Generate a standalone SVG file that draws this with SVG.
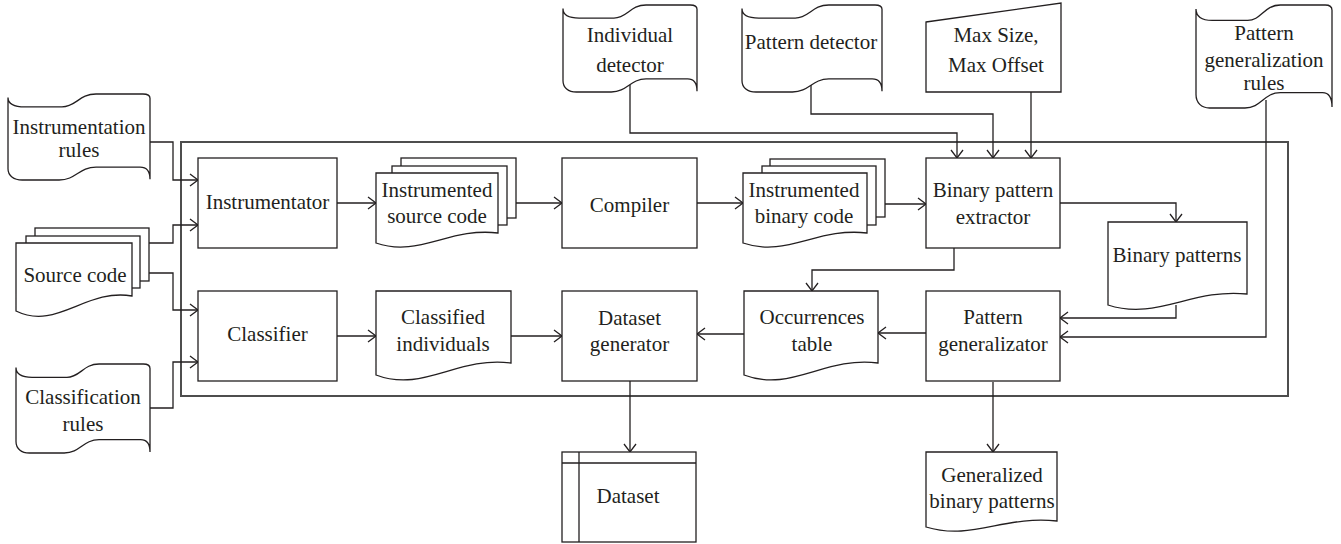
<svg xmlns="http://www.w3.org/2000/svg" width="1341" height="544" viewBox="0 0 1341 544">
<style>
.s{fill:#fff;stroke:#231f20;stroke-width:1.3}
.c{fill:none;stroke:#231f20;stroke-width:1.3;marker-end:url(#a)}
.n{fill:none;stroke:#231f20;stroke-width:1.3}
.t text{font-size:21px;fill:#231f20;text-anchor:middle}
</style>
<defs>
<marker id="a" viewBox="-10 -7 12 14" refX="0" refY="0" markerWidth="12" markerHeight="14" markerUnits="userSpaceOnUse" orient="auto">
<path d="M-8,-6 L0,0 L-8,6" fill="none" stroke="#231f20" stroke-width="1.3"/>
</marker>
<symbol id="tape" viewBox="0 0 100 100" preserveAspectRatio="none" overflow="visible">
<path d="M0,4 C0,11 4,15 12,15 L38,15 C48,15 50,0 62,0 L95,0 C98.5,0 100,2 100,5 L100,99 C100,91 98,85 93,85 L62,85 C50,85 48,100 36,100 L10,100 C4,100 0,95 0,87 Z" fill="#fff" stroke="#231f20" stroke-width="1.3" vector-effect="non-scaling-stroke"/>
</symbol>
</defs>
<rect x="181" y="142" width="1107" height="254" fill="none" stroke="#4d4d4d" stroke-width="2"/>
<g id="connectors">
<path class="c" d="M150,142 H173 V180 H198"/>
<path class="c" d="M149,243 H173 V225 H198"/>
<path class="c" d="M149,273 H173 V310 H198"/>
<path class="c" d="M150,408 H173 V362 H198"/>
<path class="c" d="M337,203 H376"/>
<path class="c" d="M516,203 H562"/>
<path class="c" d="M697,203 H743"/>
<path class="c" d="M885,204 H926"/>
<path class="c" d="M630,85 V133 H957 V158"/>
<path class="c" d="M811,85 V114 H993 V158"/>
<path class="c" d="M1031,92 V158"/>
<path class="c" d="M1060,203 H1176 V222"/>
<path class="c" d="M1176,305 V318 H1060"/>
<path class="c" d="M1266,100 V337 H1060"/>
<path class="c" d="M954,248 V270 H812 V291"/>
<path class="c" d="M926,333 H878"/>
<path class="c" d="M744,334 H697"/>
<path class="c" d="M337,336 H376"/>
<path class="c" d="M511,336 H562"/>
<path class="c" d="M630,381 V452"/>
<path class="c" d="M993,382 V452"/>
</g>
<g class="t" font-family="'Liberation Serif', 'DejaVu Serif', serif">
<g id="instrumentation-rules">
<use href="#tape" x="8" y="94" width="142" height="86"/>
<text x="79" y="134">Instrumentation</text>
<text x="79" y="157">rules</text>
</g>
<g id="source-code">
<rect class="s" x="35" y="228" width="114" height="53"/>
<rect class="s" x="26" y="236" width="114" height="52"/>
<path class="s" d="M16,243 H132 V296 C85.6,288 56.6,331 16,311 Z"/>
<text x="75" y="282">Source code</text>
</g>
<g id="classification-rules">
<use href="#tape" x="16" y="364" width="134" height="89"/>
<text x="83" y="404">Classification</text>
<text x="83" y="431">rules</text>
</g>
<g id="instrumentator">
<rect class="s" x="198" y="158" width="139" height="90"/>
<text x="267.5" y="209">Instrumentator</text>
</g>
<g id="classifier">
<rect class="s" x="198" y="291" width="139" height="90"/>
<text x="267.5" y="341">Classifier</text>
</g>
<g id="instrumented-source-code">
<rect class="s" x="401" y="158" width="115" height="60"/>
<rect class="s" x="392" y="166" width="115" height="59"/>
<path class="s" d="M376,173 H498 V233 C449.2,227 418.7,258 376,243 Z"/>
<text x="437" y="197">Instrumented</text>
<text x="437" y="223">source code</text>
</g>
<g id="compiler">
<rect class="s" x="562" y="158" width="135" height="90"/>
<text x="629.5" y="212">Compiler</text>
</g>
<g id="instrumented-binary-code">
<rect class="s" x="770" y="159" width="115" height="58"/>
<rect class="s" x="762" y="166" width="114" height="59"/>
<path class="s" d="M743,173 H867 V233 C817.4,227 786.4,258 743,243 Z"/>
<text x="804" y="197">Instrumented</text>
<text x="804" y="223">binary code</text>
</g>
<g id="individual-detector">
<use href="#tape" x="563" y="5" width="134" height="87"/>
<text x="630" y="42">Individual</text>
<text x="630" y="72">detector</text>
</g>
<g id="pattern-detector">
<use href="#tape" x="742" y="5" width="140" height="87"/>
<text x="811" y="49">Pattern detector</text>
</g>
<g id="max-size">
<path class="s" d="M926,22 L1061,3 L1061,92 L926,92 Z"/>
<text x="996" y="42">Max Size,</text>
<text x="996" y="72">Max Offset</text>
</g>
<g id="pattern-generalization-rules">
<use href="#tape" x="1196" y="5" width="136" height="103"/>
<text x="1264" y="40">Pattern</text>
<text x="1264" y="67">generalization</text>
<text x="1264" y="90">rules</text>
</g>
<g id="binary-pattern-extractor">
<rect class="s" x="926" y="158" width="134" height="90"/>
<text x="993" y="197">Binary pattern</text>
<text x="993" y="224">extractor</text>
</g>
<g id="binary-patterns">
<path class="s" d="M1108,222 H1247 V294 C1191.4,288 1156.65,321 1108,305 Z"/>
<text x="1177" y="262">Binary patterns</text>
</g>
<g id="pattern-generalizator">
<rect class="s" x="926" y="291" width="134" height="90"/>
<text x="993" y="324">Pattern</text>
<text x="993" y="351">generalizator</text>
</g>
<g id="classified-individuals">
<path class="s" d="M376,291 H511 V363 C457,356 423.25,393 376,375 Z"/>
<text x="443" y="324">Classified</text>
<text x="443" y="351">individuals</text>
</g>
<g id="dataset-generator">
<rect class="s" x="562" y="291" width="135" height="90"/>
<text x="629.5" y="325">Dataset</text>
<text x="629.5" y="351">generator</text>
</g>
<g id="occurrences-table">
<path class="s" d="M744,291 H878 V363 C824.4,356 790.9,393 744,375 Z"/>
<text x="812" y="324">Occurrences</text>
<text x="812" y="351">table</text>
</g>
<g id="dataset">
<rect class="s" x="562" y="452" width="134" height="90"/>
<path class="n" d="M562,463 H696 M579,452 V542"/>
<text x="628" y="503">Dataset</text>
</g>
<g id="generalized-binary-patterns">
<path class="s" d="M926,452 H1057 V521 C1004.6,515 971.85,541 926,527 Z"/>
<text x="992" y="482">Generalized</text>
<text x="992" y="508">binary patterns</text>
</g>
</g>
</svg>
